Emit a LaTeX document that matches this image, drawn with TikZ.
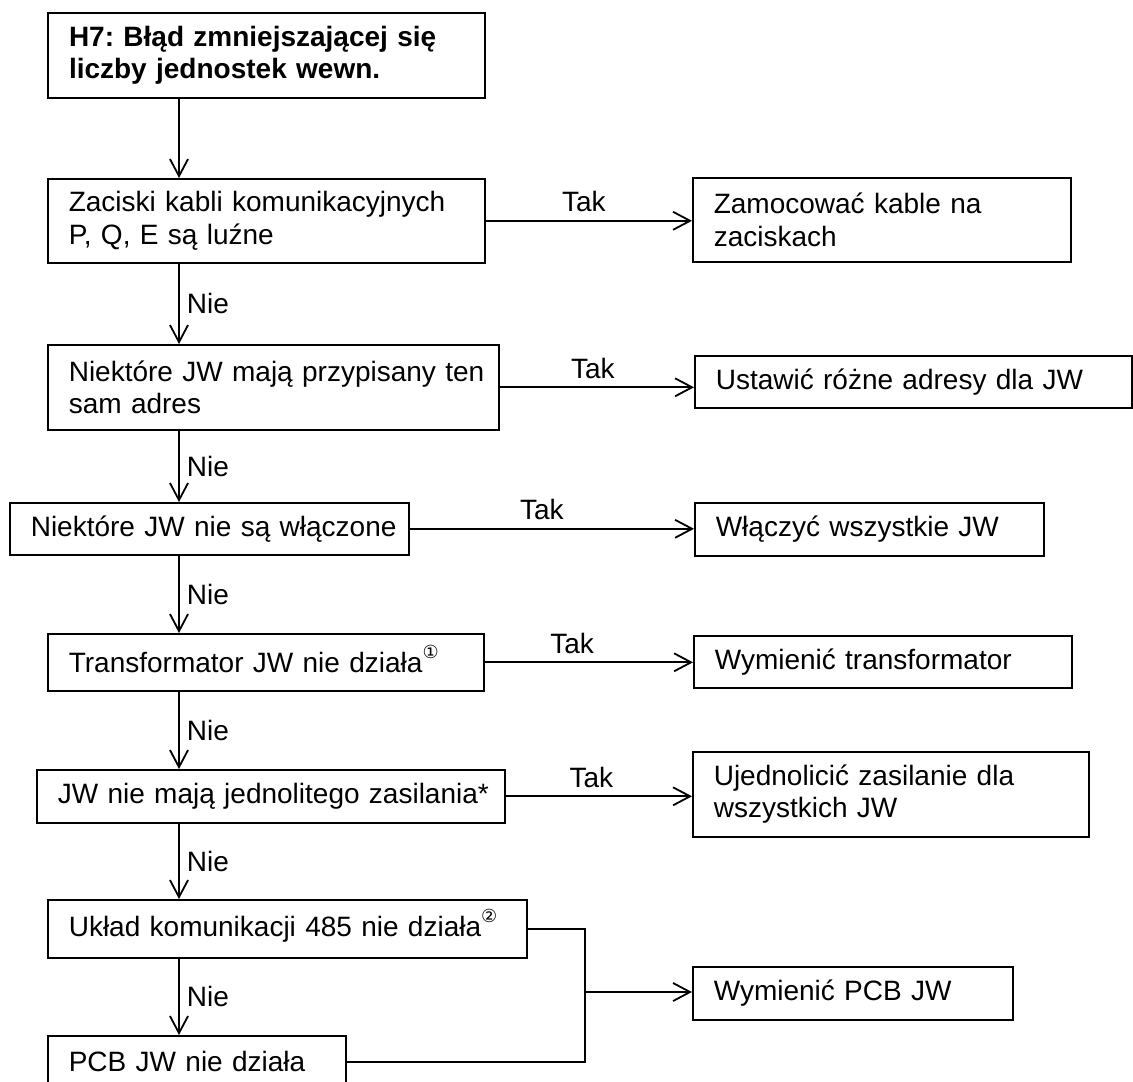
\documentclass[tikz,border=0pt]{standalone}
\usepackage{fontspec}
\setmainfont{Liberation Sans}
\newfontfamily\symfont{DejaVu Sans}
\usetikzlibrary{arrows.meta}
\frenchspacing

% small raised circled digit used as a footnote mark
\newcommand{\circmark}[1]{\smash{\raisebox{7pt}{\symfont\fontsize{9pt}{9pt}\selectfont #1}}}

\begin{document}
\begin{tikzpicture}[x=0.5pt, y=-0.5pt,
  box/.style={draw, line width=0.8pt, anchor=north west, inner xsep=10.5pt,
    inner ysep=0pt, align=left, font=\fontsize{14pt}{16.1pt}\selectfont},
  conn/.style={line width=0.9pt},
  arr/.style={conn, -{Straight Barb[length=8.5pt, width=9pt, line width=0.9pt]}},
  tak/.style={above=4pt, inner sep=0pt, font=\fontsize{14pt}{16.1pt}\selectfont},
  nie/.style={right=3.5pt, inner sep=0pt, font=\fontsize{14pt}{16.1pt}\selectfont}]

\useasboundingbox (0,0) rectangle (1133,1081);
\clip (0,0) rectangle (1133,1081);

% column of the "Nie" chain
\coordinate (col) at (179,0);

% left column: title and checks
\node[box, line width=1pt, text width=197.5pt, minimum height=42.5pt, font=\bfseries\fontsize{14pt}{16.1pt}\selectfont] (h7) at (47,12)
  {\mbox{H7: Błąd zmniejszającej się}\\\mbox{liczby jednostek wewn.}};
\node[box, text width=197.5pt, minimum height=42pt] (q1) at (47,178)
  {\mbox{Zaciski kabli komunikacyjnych}\\\mbox{P, Q, E są luźne}};
\node[box, text width=204.5pt, minimum height=42.5pt] (q2) at (47,344)
  {\mbox{Niektóre JW mają przypisany ten}\\\mbox{sam adres}};
\node[box, text width=178.5pt, minimum height=26pt] (q3) at (9,502)
  {\mbox{Niektóre JW nie są włączone}};
\node[box, text width=197pt, minimum height=28.5pt] (q4) at (47,633)
  {\mbox{Transformator JW nie działa\circmark{①}}};
\node[box, text width=213pt, minimum height=26.5pt] (q5) at (36,769)
  {\mbox{JW nie mają jednolitego zasilania*}};
\node[box, text width=218.5pt, minimum height=29pt] (q6) at (47,899)
  {\mbox{Układ komunikacji 485 nie działa\circmark{②}}};
\node[box, text width=128pt, minimum height=26pt] (q7) at (47,1035)
  {\mbox{PCB JW nie działa}};

% right column: remedies
\node[box, text width=168pt, minimum height=42pt] (r1) at (692,177)
  {\mbox{Zamocować kable na}\\\mbox{zaciskach}};
\node[box, text width=197.5pt, minimum height=26pt] (r2) at (694,355)
  {\mbox{Ustawić różne adresy dla JW}};
\node[box, text width=153.5pt, minimum height=26.5pt] (r3) at (694,502)
  {\mbox{Włączyć wszystkie JW}};
\node[box, text width=168pt, minimum height=26pt] (r4) at (693,635)
  {\mbox{Wymienić transformator}};
\node[box, text width=177pt, minimum height=42.5pt] (r5) at (692,751)
  {\mbox{Ujednolicić zasilanie dla}\\\mbox{wszystkich JW}};
\node[box, text width=139pt, minimum height=26.5pt] (r6) at (692,966)
  {\mbox{Wymienić PCB JW}};

% "Nie" chain
\draw[arr] (h7.south -| col) -- (q1.north -| col);
\draw[arr] (q1.south -| col) -- node[nie] {Nie} (q2.north -| col);
\draw[arr] (q2.south -| col) -- node[nie] {Nie} (q3.north -| col);
\draw[arr] (q3.south -| col) -- node[nie] {Nie} (q4.north -| col);
\draw[arr] (q4.south -| col) -- node[nie] {Nie} (q5.north -| col);
\draw[arr] (q5.south -| col) -- node[nie] {Nie} (q6.north -| col);
\draw[arr] (q6.south -| col) -- node[nie] {Nie} (q7.north -| col);

% "Tak" branches
\draw[arr] (q1.east) -- node[tak, pos=0.476] {Tak} (q1.east -| r1.west);
\draw[arr] (q2.east) -- node[tak, pos=0.48] {Tak} (q2.east -| r2.west);
\draw[arr] (q3.east) -- node[tak, pos=0.465] {Tak} (q3.east -| r3.west);
\draw[arr] (q4.east) -- node[tak, pos=0.42] {Tak} (q4.east -| r4.west);
\draw[arr] (q5.east) -- node[tak, pos=0.46] {Tak} (q5.east -| r5.west);

% both last checks lead to the board replacement
\coordinate (jn) at (585,992);
\draw[conn] (q6.east) -| (jn) |- (q7.east);
\draw[arr] (jn) -- (jn -| r6.west);

\end{tikzpicture}
\end{document}
